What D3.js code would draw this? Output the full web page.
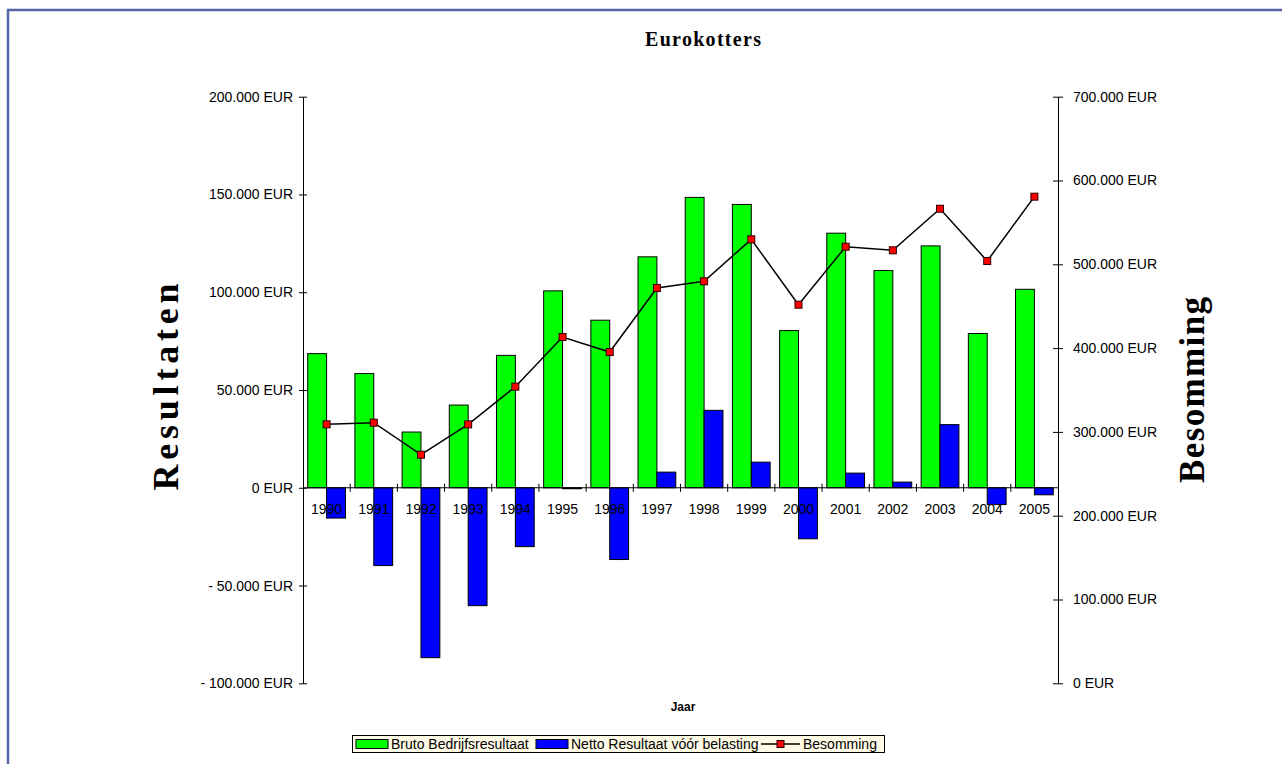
<!DOCTYPE html>
<html>
<head>
<meta charset="utf-8">
<script src="https://cdn.jsdelivr.net/npm/d3@7"></script>
<style>
  body { margin: 0; background: #fff; }
  svg { display: block; }
  .tick text { font-family: "Liberation Sans", Arial, sans-serif; fill: #000; }
</style>
</head>
<body>
<div class="chart-container"></div>
<script>
var years = ['1990', '1991', '1992', '1993', '1994', '1995', '1996', '1997',
  '1998', '1999', '2000', '2001', '2002', '2003', '2004', '2005'];
var bruto = [68600, 58400, 28500, 42300, 67700, 100700, 85700, 118100,
  148500, 144900, 80400, 130200, 111100, 123700, 78900, 101500];
var netto = [-15500, -39800, -86900, -60300, -30100, -500, -36700, 8000,
  39600, 13100, -26100, 7500, 2900, 32300, -8600, -3600];
var besomming = [309000, 311000, 272800, 309000, 354000, 413200, 395300, 471700,
  479700, 529800, 451800, 521000, 516700, 566300, 503900, 580700];
var leftTicks = [-100000, -50000, 0, 50000, 100000, 150000, 200000];
var rightTicks = [0, 100000, 200000, 300000, 400000, 500000, 600000, 700000];
var seriesNames = ['Bruto Bedrijfsresultaat', 'Netto Resultaat vóór belasting', 'Besomming'];

var W = 1282, H = 764;
var plot = {left: 303, right: 1058, top: 96.7, bottom: 683.3};
var sans = '"Liberation Sans", Arial, sans-serif';
var serif = '"Liberation Serif", "Times New Roman", serif';

function eur(v) {
  var s = d3.format(',')(Math.abs(v)).replace(/,/g, '.');
  return (v < 0 ? '- ' : '') + s + ' EUR';
}

var svg = d3.select('.chart-container').append('svg')
  .attr('width', W)
  .attr('height', H);

// frame
svg.append('rect')
  .attr('x', 8).attr('y', 10)
  .attr('width', W + 20).attr('height', H + 20)
  .attr('fill', 'none')
  .attr('stroke', '#5566a6')
  .attr('stroke-width', 2.5);

var x0 = d3.scaleBand()
  .domain(years)
  .range([plot.left, plot.right])
  .padding(0);

var x1 = d3.scaleBand()
  .domain(['bruto', 'netto'])
  .range([0, x0.bandwidth()])
  .paddingInner(0)
  .paddingOuter(0.25);

var yL = d3.scaleLinear()
  .domain([-100000, 200000])
  .range([plot.bottom, plot.top]);

var yR = d3.scaleLinear()
  .domain([0, 700000])
  .range([plot.bottom, plot.top]);

// bars
var rows = years.map((y, i) => ({year: y, bruto: bruto[i], netto: netto[i], bes: besomming[i]}));

svg.append('g').selectAll('rect')
  .data(rows)
  .enter().append('rect')
    .attr('x', d => x0(d.year) + x1('bruto'))
    .attr('width', x1.bandwidth())
    .attr('y', d => yL(Math.max(0, d.bruto)))
    .attr('height', d => Math.abs(yL(d.bruto) - yL(0)))
    .attr('fill', '#00ff00')
    .attr('stroke', '#000')
    .attr('stroke-width', 1);

svg.append('g').selectAll('rect')
  .data(rows)
  .enter().append('rect')
    .attr('x', d => x0(d.year) + x1('netto'))
    .attr('width', x1.bandwidth())
    .attr('y', d => yL(Math.max(0, d.netto)))
    .attr('height', d => Math.abs(yL(d.netto) - yL(0)))
    .attr('fill', '#0000ff')
    .attr('stroke', '#000')
    .attr('stroke-width', 1);

// left axis
var gL = svg.append('g')
  .attr('transform', `translate(${plot.left},0)`)
  .call(d3.axisLeft(yL).tickValues(leftTicks).tickFormat(eur).tickSize(0).tickPadding(10));
gL.select('.domain').attr('stroke', '#000');
gL.selectAll('.tick').append('line')
  .attr('x1', -4).attr('x2', 4).attr('stroke', '#000');
gL.selectAll('.tick text').style('font-size', '14px');

// right axis
var gR = svg.append('g')
  .attr('transform', `translate(${plot.right},0)`)
  .call(d3.axisRight(yR).tickValues(rightTicks).tickFormat(eur).tickSize(0).tickPadding(15));
gR.select('.domain').attr('stroke', '#000');
gR.selectAll('.tick').append('line')
  .attr('x1', -5).attr('x2', 5).attr('stroke', '#000');
gR.selectAll('.tick text').style('font-size', '14px');

// category axis at zero
var gX = svg.append('g')
  .attr('transform', `translate(0,${yL(0)})`);
gX.append('line')
  .attr('x1', plot.left).attr('x2', plot.right)
  .attr('stroke', '#000');
gX.selectAll('.cat-tick')
  .data(years.slice(1))
  .enter().append('line')
    .attr('x1', d => x0(d)).attr('x2', d => x0(d))
    .attr('y1', -4).attr('y2', 4)
    .attr('stroke', '#000');
gX.selectAll('.cat-label')
  .data(years)
  .enter().append('text')
    .attr('x', d => x0(d) + x0.bandwidth() / 2)
    .attr('y', 26)
    .attr('text-anchor', 'middle')
    .style('font-family', sans)
    .style('font-size', '14px')
    .text(d => d);

// besomming line
var line = d3.line()
  .x(d => x0(d.year) + x0.bandwidth() / 2)
  .y(d => yR(d.bes));

svg.append('path')
  .datum(rows)
  .attr('d', line)
  .attr('fill', 'none')
  .attr('stroke', '#000')
  .attr('stroke-width', 1.5);

svg.append('g').selectAll('rect')
  .data(rows)
  .enter().append('rect')
    .attr('x', d => x0(d.year) + x0.bandwidth() / 2 - 3.5)
    .attr('y', d => yR(d.bes) - 3.5)
    .attr('width', 7).attr('height', 7)
    .attr('fill', '#ff0000')
    .attr('stroke', '#300000')
    .attr('stroke-width', 1);

// titles
svg.append('text')
  .attr('x', 703).attr('y', 46)
  .attr('text-anchor', 'middle')
  .attr('textLength', 116)
  .attr('lengthAdjust', 'spacing')
  .style('font-family', serif)
  .style('font-weight', 'bold')
  .style('font-size', '20px')
  .text('Eurokotters');

svg.append('text')
  .attr('transform', 'translate(178,387) rotate(-90)')
  .attr('text-anchor', 'middle')
  .attr('textLength', 207)
  .attr('lengthAdjust', 'spacing')
  .style('font-family', serif)
  .style('font-weight', 'bold')
  .style('font-size', '36px')
  .text('Resultaten');

svg.append('text')
  .attr('transform', 'translate(1204,390) rotate(-90)')
  .attr('text-anchor', 'middle')
  .attr('textLength', 186)
  .attr('lengthAdjust', 'spacing')
  .style('font-family', serif)
  .style('font-weight', 'bold')
  .style('font-size', '35px')
  .text('Besomming');

svg.append('text')
  .attr('x', 683).attr('y', 711)
  .attr('text-anchor', 'middle')
  .style('font-family', sans)
  .style('font-weight', 'bold')
  .style('font-size', '12px')
  .text('Jaar');

// legend
var legend = svg.append('g');
legend.append('rect')
  .attr('x', 352.5).attr('y', 735.5)
  .attr('width', 532).attr('height', 17)
  .attr('fill', '#fffbe6')
  .attr('stroke', '#000');

var items = [
  {name: seriesNames[0], x: 356, type: 'bar', color: '#00ff00'},
  {name: seriesNames[1], x: 536, type: 'bar', color: '#0000ff'},
  {name: seriesNames[2], x: 761, type: 'line', color: '#ff0000'}
];
items.forEach(it => {
  if (it.type === 'bar') {
    legend.append('rect')
      .attr('x', it.x).attr('y', 739.5)
      .attr('width', 32).attr('height', 9)
      .attr('fill', it.color)
      .attr('stroke', '#000');
  } else {
    legend.append('line')
      .attr('x1', it.x).attr('x2', it.x + 39)
      .attr('y1', 744).attr('y2', 744)
      .attr('stroke', '#000').attr('stroke-width', 1.5);
    legend.append('rect')
      .attr('x', it.x + 16).attr('y', 740.5)
      .attr('width', 7).attr('height', 7)
      .attr('fill', it.color)
      .attr('stroke', '#300000');
  }
  legend.append('text')
    .attr('x', it.type === 'bar' ? it.x + 35 : it.x + 42)
    .attr('y', 749)
    .style('font-family', sans)
    .style('font-size', '14px')
    .text(it.name);
});
</script>
</body>
</html>
